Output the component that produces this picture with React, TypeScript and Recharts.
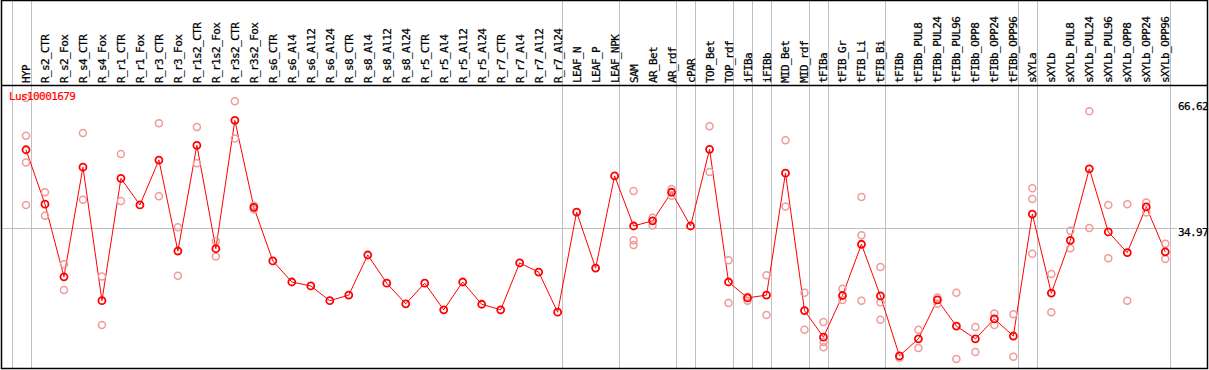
import { ComposedChart, Line, Scatter, XAxis, YAxis, ReferenceLine } from 'recharts'

const geneName = 'Lus10001679'

const categories = [
  'HYP',
  'R_s2_CTR', 'R_s2_Fox', 'R_s4_CTR', 'R_s4_Fox', 'R_r1_CTR', 'R_r1_Fox', 'R_r3_CTR', 'R_r3_Fox',
  'R_r1s2_CTR', 'R_r1s2_Fox', 'R_r3s2_CTR', 'R_r3s2_Fox',
  'R_s6_CTR', 'R_s6_Al4', 'R_s6_Al12', 'R_s6_Al24', 'R_s8_CTR', 'R_s8_Al4', 'R_s8_Al12', 'R_s8_Al24',
  'R_r5_CTR', 'R_r5_Al4', 'R_r5_Al12', 'R_r5_Al24', 'R_r7_CTR', 'R_r7_Al4', 'R_r7_Al12', 'R_r7_Al24',
  'LEAF_N', 'LEAF_P', 'LEAF_NPK', 'SAM', 'AR_Bet', 'AR_rdf', 'cPAR', 'TOP_Bet', 'TOP_rdf',
  'iFIBa', 'iFIBb', 'MID_Bet', 'MID_rdf', 'tFIBa', 'tFIB_Gr', 'tFIB_Li', 'tFIB_Bi',
  'tFIBb', 'tFIBb_PUL8', 'tFIBb_PUL24', 'tFIBb_PUL96', 'tFIBb_OPP8', 'tFIBb_OPP24', 'tFIBb_OPP96',
  'sXYLa', 'sXYLb', 'sXYLb_PUL8', 'sXYLb_PUL24', 'sXYLb_PUL96', 'sXYLb_OPP8', 'sXYLb_OPP24', 'sXYLb_OPP96',
]

// mean expression per sample
const means = [
  54.7,
  41.0, 22.7, 50.3, 16.7, 47.5, 40.8, 52.1, 29.2,
  55.8, 29.8, 62.1, 40.2,
  26.7, 21.4, 20.4, 16.7, 18.1, 28.2, 21.1, 15.9,
  21.1, 14.4, 21.4, 15.8, 14.4, 26.2, 23.9, 13.8,
  39.0, 24.9, 48.1, 35.5, 36.8, 44.0, 35.5, 54.8, 21.4,
  17.4, 18.1, 48.8, 14.2, 7.5, 18.0, 30.9, 17.9,
  2.8, 7.1, 16.9, 10.3, 7.1, 12.1, 7.8,
  38.5, 18.6, 31.9, 49.9, 34.0, 28.8, 40.3, 29.0,
]

// individual replicates (pale circles)
const replicates: number[][] = [
  [67.7, 58.2, 51.5, 40.8],
  [44.0, 38.1], [25.9, 19.4], [58.9, 42.1], [22.8, 10.6], [53.6, 41.8], [], [61.4, 43.0], [35.2, 23.0],
  [60.4, 51.3], [31.7, 27.8], [66.9, 57.5], [39.7, 40.6],
  [], [], [], [], [], [], [], [],
  [], [], [], [], [], [], [], [],
  [], [], [], [44.3, 31.9, 30.7], [37.6, 35.6], [44.8, 43.1], [], [60.6, 49.1], [26.9, 16.1],
  [17.7, 16.7], [23.1, 13.1], [57.1, 40.4], [18.7, 9.4], [11.3, 6.3, 5.0], [19.7, 16.9], [42.8, 33.2, 16.7], [25.2, 16.3, 11.9],
  [2.3], [9.4, 4.8], [17.5, 15.9], [18.7, 2.0], [10.1, 3.8], [13.5, 10.6], [13.3, 2.6],
  [45.0, 42.3, 28.5], [23.4, 13.8], [34.3, 29.9], [64.4, 35.0], [40.8, 27.4], [41.0, 16.7], [41.4, 38.9], [31.0, 27.2],
]

// group boundaries: a grey line after each of these sample indices
const groupEnds = [-1, 0, 28, 31, 34, 35, 37, 38, 39, 41, 42, 45, 52, 53, 60]

const yTicks = [0, 34.97, 66.62]

const lineData = categories.map((name, i) => ({ i, name, mean: means[i] }))
const repData = replicates.flatMap((vals, i) => vals.map((v) => ({ i, v })))
const xTicks = categories.map((_, i) => i)

const FONT = '"DejaVu Sans Mono", monospace'
const GRID = '#c0c0c0'

const TopTick = (props: any) => {
  const { x, payload } = props
  return (
    <text
      transform={`translate(${x + 4},83) rotate(-90)`}
      fontFamily={FONT}
      fontSize={11}
      letterSpacing={-0.6}
      fill="#000"
      stroke="#000"
      strokeWidth={0.25}
      textAnchor="start"
    >
      {categories[payload.value]}
    </text>
  )
}

const RightTick = (props: any) => {
  const { x, y, payload } = props
  return (
    <text
      x={x}
      y={payload.value === 0 ? y - 1 : y + 8}
      fontFamily={FONT}
      fontSize={11}
      letterSpacing={-0.6}
      fill="#000"
      stroke="#000"
      strokeWidth={0.25}
      textAnchor="start"
    >
      {payload.value}
    </text>
  )
}

const vLine = (p: any) => {
  const x = Math.round(p.x1) + 0.5
  return <line x1={x} x2={x} y1={0} y2={369} stroke={GRID} strokeWidth={1} />
}

const hLine = (p: any) => {
  const y = Math.round(p.y1) + 0.5
  return <line x1={1} x2={1177} y1={y} y2={y} stroke={GRID} strokeWidth={1} />
}

const repDot = (p: any) => (
  <circle cx={p.cx} cy={p.cy} r={3.5} fill="none" stroke="#f09a9a" strokeWidth={1.5} />
)

export default function App() {
  return (
    <div style={{ position: 'absolute', left: 0, top: 0, width: 1209, height: 370, background: '#fff' }}>
      <ComposedChart width={1209} height={370} data={lineData} margin={{ top: 0, right: 0, bottom: 3, left: 7 }}>
        <XAxis
          dataKey="i"
          type="number"
          orientation="top"
          domain={[-1, 60.25]}
          ticks={xTicks}
          interval={0}
          height={85}
          axisLine={false}
          tickLine={false}
          tick={<TopTick />}
          allowDataOverflow
        />
        <YAxis
          orientation="right"
          domain={[0, 71]}
          ticks={yTicks}
          width={39}
          axisLine={false}
          tickLine={false}
          tickSize={6}
          tickMargin={2}
          tick={<RightTick />}
          allowDataOverflow
        />
        {groupEnds.map((g) => (
          <ReferenceLine key={g} x={g + 0.25} shape={vLine} />
        ))}
        <ReferenceLine y={34.97} shape={hLine} />
        <Scatter data={repData} dataKey="v" shape={repDot} isAnimationActive={false} />
        <Line
          type="linear"
          dataKey="mean"
          stroke="#ff0000"
          strokeWidth={1}
          dot={{ r: 3.5, stroke: '#ff0000', strokeWidth: 1.8, fill: 'none' }}
          activeDot={false}
          isAnimationActive={false}
        />
      </ComposedChart>
      <svg width={1209} height={370} style={{ position: 'absolute', left: 0, top: 0, pointerEvents: 'none' }}>
        <rect x={1.5} y={0.5} width={1206} height={368} fill="none" stroke="#000" strokeWidth={1.5} />
        <line x1={1} x2={1208} y1={85.5} y2={85.5} stroke="#000" strokeWidth={1.5} />
        <text x={9} y={100} fontFamily={FONT} fontSize={11} letterSpacing={-0.6} fill="#ff0000" stroke="#ff0000" strokeWidth={0.2}>
          {geneName}
        </text>
      </svg>
    </div>
  )
}
